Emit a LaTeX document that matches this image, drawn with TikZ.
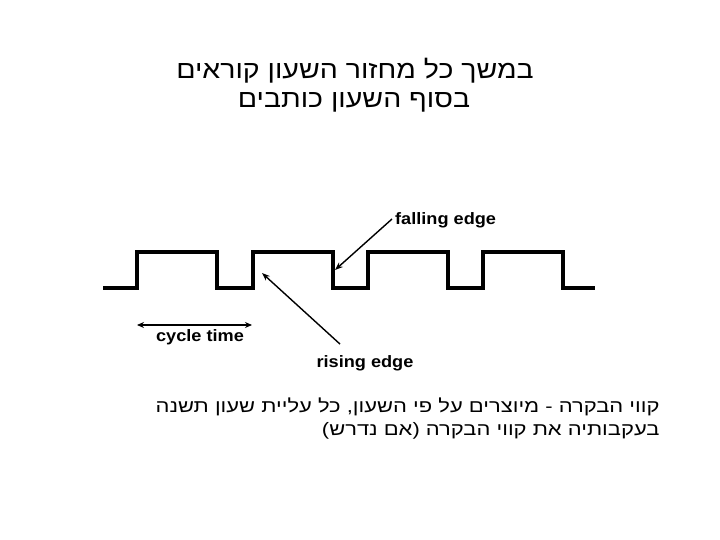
\documentclass[tikz,border=0pt]{standalone}
\usepackage{fontspec}
\setmainfont{Liberation Sans}
\newfontfamily\hebfont[Script=Hebrew, FakeStretch=1.14]{Liberation Sans}
\newfontfamily\hebnote[Script=Hebrew, FakeStretch=1.22]{Liberation Sans}
\newfontfamily\lblfont[FakeStretch=1.1]{Liberation Sans}
\TeXXeTstate=1
\usetikzlibrary{arrows.meta}
\tikzset{
  wave/.style={line width=4pt, line join=miter},
  pointer/.style={line width=1.4pt, -{Stealth[length=8pt,width=6pt]}},
  lbl/.style={font=\lblfont\bfseries\fontsize{16.5}{18}\selectfont, inner sep=0pt}
}
\begin{document}
\begin{tikzpicture}[x=1pt, y=-1pt]
  \useasboundingbox (0,0) rectangle (720,540);
  % Title
  \node[font=\hebfont\fontsize{25}{28}\selectfont] (title1) at (355,71) {\beginR במשך כל מחזור השעון קוראים\endR};
  \node[font=\hebfont\fontsize{25}{28}\selectfont] (title2) at (354,102) {\beginR בסוף השעון כותבים\endR};

  % Clock signal: 4 pulses
  \draw[wave] (103,288) \foreach \r in {137,253,368,483} {
    -- (\r,288) -- (\r,252) -- ({\r+80},252) -- ({\r+80},288)
  } -- (595,288);

  % Edges
  \coordinate (fall) at (335,270);
  \coordinate (rise) at (262,273);
  \node[lbl, anchor=west] (fallname) at (395,220) {falling edge};
  \node[lbl] (risename) at (365,363) {rising edge};
  \draw[pointer] (fallname.west) ++(-3,-1) coordinate (fallstart) -- (fall);
  \draw[pointer] (risename.north) ++(-25,-11) coordinate (risestart) -- (rise);

  % Cycle time
  \coordinate (cycA) at (137,325);
  \coordinate (cycB) at (252,325);
  \draw[line width=1.4pt, {Stealth[length=7pt,width=6pt]}-{Stealth[length=7pt,width=6pt]}] (cycA) -- (cycB);
  \node[lbl] (cycname) at (200,337) {cycle time};

  % Explanation
  \node[font=\hebnote\fontsize{18}{23}\selectfont, align=right, anchor=east] (note) at (663,419)
    {\beginR קווי הבקרה - מיוצרים על פי השעון, כל עליית שעון תשנה\endR\\
     \beginR בעקבותיה את קווי הבקרה (אם נדרש)\endR};
\end{tikzpicture}
\end{document}
